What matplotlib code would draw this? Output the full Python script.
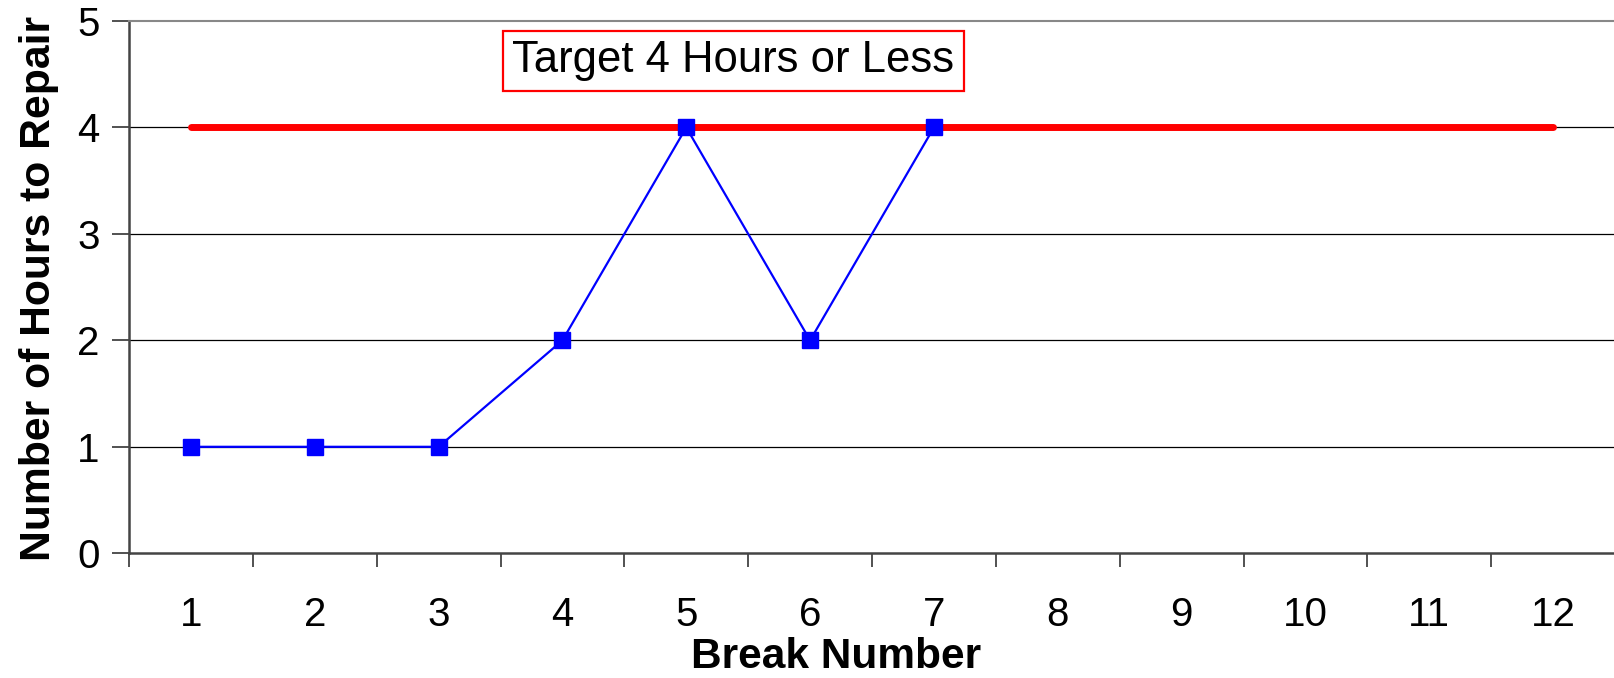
import matplotlib.pyplot as plt
from matplotlib.ticker import FixedLocator

plt.rcParams['font.family'] = ['Liberation Sans', 'DejaVu Sans']

breaks = [1, 2, 3, 4, 5, 6, 7, 8, 9, 10, 11, 12]
hours = [1, 1, 1, 2, 4, 2, 4]
target = [4] * 12
target_label = "Target 4 Hours or Less"

fig = plt.figure(figsize=(16.15, 6.78), dpi=100)
ax = fig.add_axes([0.0799, 0.184, 0.9201, 0.785])

# grid lines at each whole hour
for y in [1, 2, 3, 4]:
    ax.axhline(y, color="black", lw=0.9, zorder=1)

ax.plot(breaks, target, color="#ff0000", lw=5, solid_capstyle="round", zorder=2)
ax.plot(breaks[:len(hours)], hours, color="#0000ff", lw=1.6, marker="s",
        markersize=11, markerfacecolor="#0000ff", markeredgecolor="#0000ff", zorder=3)

ax.text(5.38, 4.625, target_label, fontsize=31.4, ha="center", va="center",
        bbox=dict(boxstyle="square,pad=0.21", facecolor="white", edgecolor="#ff0000", lw=1.6),
        zorder=4)

ax.set_xlim(0.5, 12.5)
ax.set_ylim(0, 5)

ax.set_xticks(breaks)
ax.set_xticklabels([str(b) for b in breaks])
ax.xaxis.set_minor_locator(FixedLocator([b - 0.5 for b in breaks] + [12.5]))
ax.tick_params(axis="x", which="major", length=0, pad=30.5, labelsize=29)
ax.tick_params(axis="x", which="minor", length=10, width=1.2, color="#333333")

ax.set_yticks([0, 1, 2, 3, 4, 5])
ax.tick_params(axis="y", length=12, width=1.2, color="#333333", pad=9, labelsize=29)

ax.spines["right"].set_visible(False)
ax.spines["top"].set_color("#888888")
ax.spines["top"].set_linewidth(1.5)
ax.spines["left"].set_color("#444444")
ax.spines["left"].set_linewidth(1.8)
ax.spines["bottom"].set_color("#444444")
ax.spines["bottom"].set_linewidth(1.8)

ax.set_xlabel("Break Number", fontsize=30.5, fontweight="bold", va="baseline")
ax.xaxis.set_label_coords(0.4758, -0.2155)
ax.set_ylabel("Number of Hours to Repair", fontsize=30.7, fontweight="bold", va="center")
ax.yaxis.set_label_coords(-0.0608, 0.498)

fig.savefig("out.png", dpi=100)
